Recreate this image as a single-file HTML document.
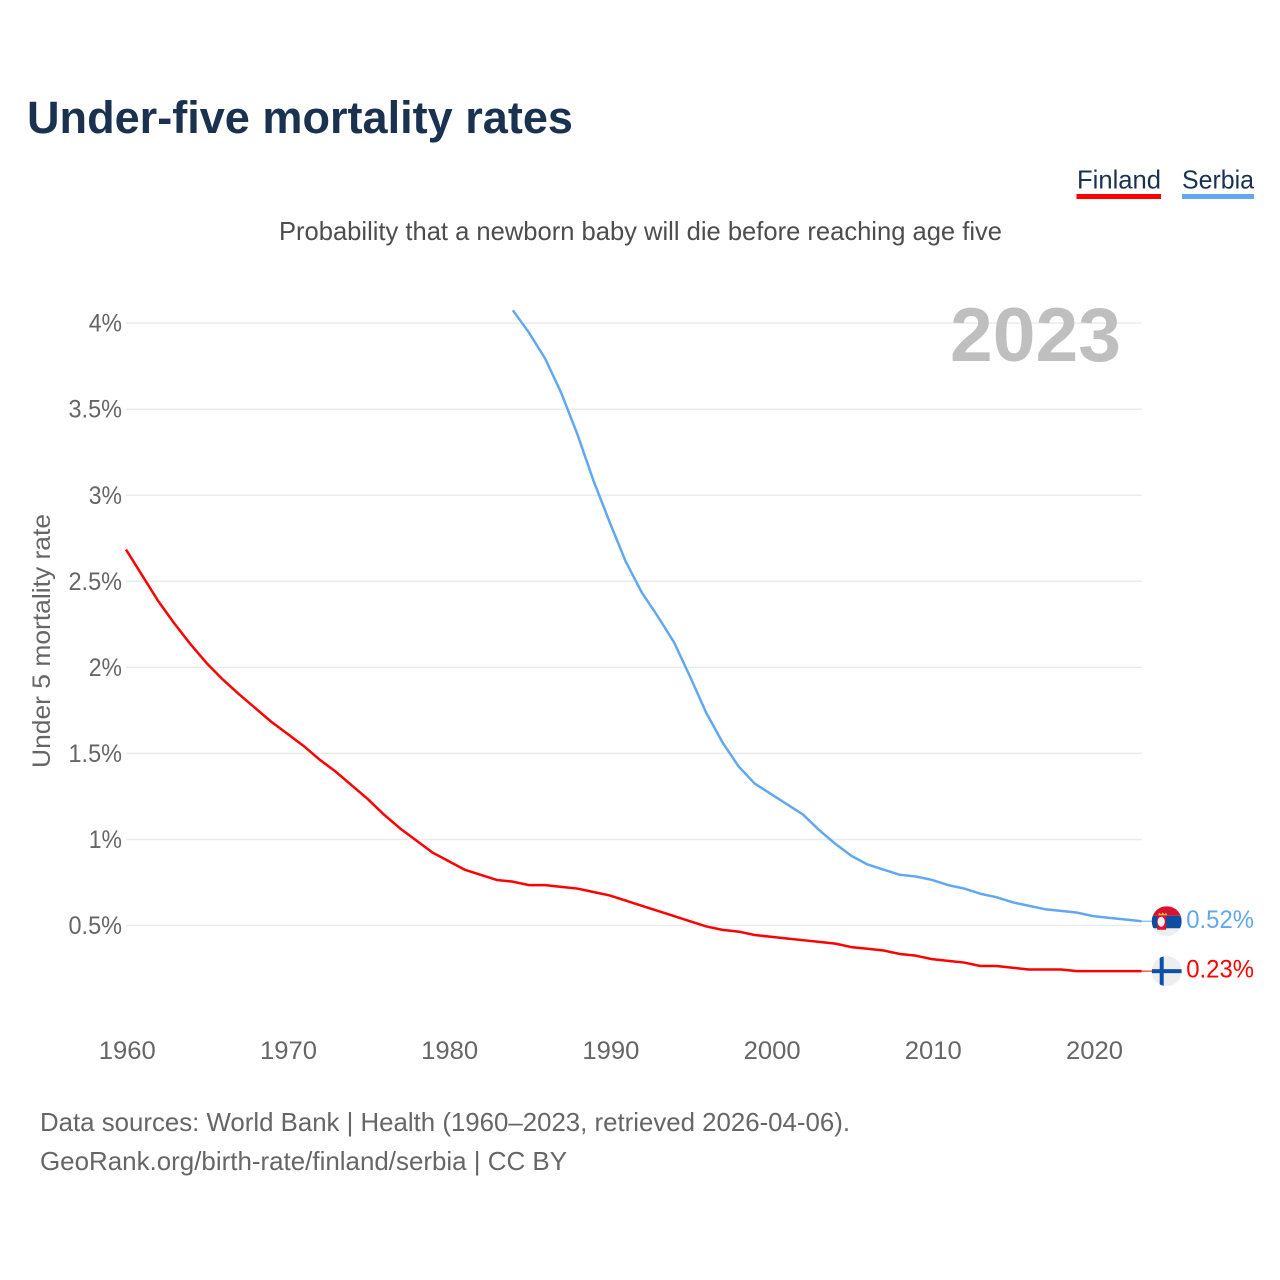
<!DOCTYPE html>
<html lang="en">
<head>
<meta charset="utf-8">
<title>Under-five mortality rates</title>
<style>
html,body{margin:0;padding:0;background:#fff;}
svg{display:block;}
text{font-family:"Liberation Sans",sans-serif;}
</style>
</head>
<body>
<svg id="chart" xmlns="http://www.w3.org/2000/svg" width="1280" height="1280" viewBox="0 0 1280 1280">
  <rect x="0" y="0" width="1280" height="1280" fill="#fff"/>
  <text x="27" y="133" font-size="45" font-weight="700" fill="#1a3150" textLength="546" lengthAdjust="spacingAndGlyphs">Under-five mortality rates</text>
  <g>
    <g>
      <text x="1077" y="188.5" font-size="26" fill="#1a3150" textLength="84" lengthAdjust="spacingAndGlyphs">Finland</text>
      <rect x="1076.5" y="194" width="84.5" height="5" fill="#ff0000"/>
    </g>
    <g>
      <text x="1182" y="188.5" font-size="26" fill="#1a3150" textLength="72" lengthAdjust="spacingAndGlyphs">Serbia</text>
      <rect x="1182" y="194" width="72" height="5" fill="#62a8ef"/>
    </g>
  </g>
  <text x="279" y="240" font-size="26" fill="#4d4d4d" textLength="723" lengthAdjust="spacingAndGlyphs">Probability that a newborn baby will die before reaching age five</text>
  <g id="grid"></g>
  <text x="950" y="361" font-size="76" font-weight="700" fill="#bfbfbf" textLength="171" lengthAdjust="spacingAndGlyphs">2023</text>
  <g id="yticks"></g>
  <g id="xticks"></g>
  <text transform="translate(50 641) rotate(-90)" text-anchor="middle" font-size="25" fill="#666666" textLength="254" lengthAdjust="spacingAndGlyphs">Under 5 mortality rate</text>
  <g id="series"></g>
  <g id="ends"></g>
  <text x="40" y="1131" font-size="26" fill="#666666" textLength="810" lengthAdjust="spacingAndGlyphs">Data sources: World Bank | Health (1960–2023, retrieved 2026-04-06).</text>
  <text x="40" y="1170" font-size="26" fill="#666666" textLength="527" lengthAdjust="spacingAndGlyphs">GeoRank.org/birth-rate/finland/serbia | CC BY</text>
</svg>
<script>
var xTickYears = [1960, 1970, 1980, 1990, 2000, 2010, 2020];
var yTickValues = [0.5, 1, 1.5, 2, 2.5, 3, 3.5, 4];
var finlandStartYear = 1960;
var finlandValues = [2.68,2.53,2.38,2.25,2.13,2.02,1.925,1.84,1.76,1.68,1.61,1.54,1.46,1.39,1.31,1.23,1.14,1.06,0.99,0.92,0.87,0.82,0.79,0.76,0.75,0.73,0.73,0.72,0.71,0.69,0.67,0.64,0.61,0.58,0.55,0.52,0.49,0.47,0.46,0.44,0.43,0.42,0.41,0.40,0.39,0.37,0.36,0.35,0.33,0.32,0.30,0.29,0.28,0.26,0.26,0.25,0.24,0.24,0.24,0.23,0.23,0.23,0.23,0.23];
var serbiaStartYear = 1984;
var serbiaValues = [4.07,3.94,3.79,3.59,3.35,3.08,2.84,2.61,2.43,2.29,2.14,1.94,1.73,1.56,1.42,1.32,1.26,1.20,1.14,1.05,0.97,0.90,0.85,0.82,0.79,0.78,0.76,0.73,0.71,0.68,0.66,0.63,0.61,0.59,0.58,0.57,0.55,0.54,0.53,0.52];

var NS = 'http://www.w3.org/2000/svg';
function xScale(year) { return 126 + (year - 1960) * 16.12; }
function yScale(value) { return 924.7 - (value - 0.5) * 172.1; }
function make(tag, parent, attrs) {
  var el = document.createElementNS(NS, tag);
  for (var k in attrs) el.setAttribute(k, attrs[k]);
  parent.appendChild(el);
  return el;
}
function labelWidth(str) {
  var w = 0;
  for (var i = 0; i < str.length; i++) {
    var c = str.charAt(i);
    w += c === '%' ? 19 : c === '.' ? 6 : 14.25;
  }
  return w;
}
function yLabel(v) { return v + '%'; }

var gridGroup = document.getElementById('grid');
var yGroup = document.getElementById('yticks');
yTickValues.forEach(function (v) {
  var gy = yScale(v) + 0.8;
  var line = make('line', gridGroup, {x1: 126, x2: 1142, y1: gy, y2: gy, stroke: '#ebebeb', 'stroke-width': 1.5});
  
  
  var s = yLabel(v);
  var t = make('text', yGroup, {x: 122, y: gy + 8.5, 'text-anchor': 'end', 'font-size': 25, fill: '#666666', textLength: labelWidth(s), lengthAdjust: 'spacingAndGlyphs'});
  t.textContent = s;
  
  
});

var xGroup = document.getElementById('xticks');
xTickYears.forEach(function (yr) {
  var s = String(yr);
  var t = make('text', xGroup, {x: xScale(yr) + 1.3, y: 1059, 'text-anchor': 'middle', 'font-size': 25, fill: '#666666', textLength: labelWidth(s), lengthAdjust: 'spacingAndGlyphs'});
  t.textContent = s;
  
  
});

function pointsFor(startYear, values) {
  return values.map(function (v, i) {
    return xScale(startYear + i).toFixed(2) + ',' + yScale(v).toFixed(2);
  }).join(' ');
}
var seriesGroup = document.getElementById('series');
var serbiaLine = make('polyline', seriesGroup, {points: pointsFor(serbiaStartYear, serbiaValues), fill: 'none', stroke: '#62a8ef', 'stroke-width': 2.5, 'stroke-linejoin': 'round'});


var finlandLine = make('polyline', seriesGroup, {points: pointsFor(finlandStartYear, finlandValues), fill: 'none', stroke: '#ff0000', 'stroke-width': 2.5, 'stroke-linejoin': 'round'});



var endsGroup = document.getElementById('ends');
var endX = xScale(2023);
var flagX = 1166.7;
var serbiaLast = serbiaValues[serbiaValues.length - 1];
var finlandLast = finlandValues[finlandValues.length - 1];
var serbiaY = yScale(serbiaLast);
var finlandY = yScale(finlandLast);

var serbiaConn = make('line', endsGroup, {x1: endX, x2: flagX, y1: serbiaY, y2: serbiaY, stroke: '#62a8ef', 'stroke-width': 1});


var finlandConn = make('line', endsGroup, {x1: endX, x2: flagX, y1: finlandY, y2: finlandY, stroke: '#ff0000', 'stroke-width': 1});



var defs = make('defs', endsGroup, {});
var clipS = make('clipPath', defs, {id: 'clip-serbia'});
make('circle', clipS, {cx: flagX, cy: serbiaY, r: 15});
var clipF = make('clipPath', defs, {id: 'clip-finland'});
make('circle', clipF, {cx: flagX, cy: finlandY, r: 15});

var flagS = make('g', endsGroup, {'clip-path': 'url(#clip-serbia)'});


make('rect', flagS, {x: flagX - 15, y: serbiaY - 15, width: 30, height: 30, fill: '#eeeeee'});
make('rect', flagS, {x: flagX - 15, y: serbiaY - 15, width: 30, height: 9.5, fill: '#d8122f'});
make('rect', flagS, {x: flagX - 15, y: serbiaY - 5.5, width: 30, height: 12.5, fill: '#0c4da2'});
make('path', flagS, {d: 'M' + (flagX - 9.5) + ' ' + (serbiaY - 5.5) + 'h9v14h-9z', fill: '#d8122f'});
make('path', flagS, {d: 'M' + (flagX - 8.5) + ' ' + (serbiaY - 6) + 'l1 -2.5 2 1.5 1.5 -2 1.5 2 2 -1.5 1 2.5z', fill: '#e8b93a'});
make('ellipse', flagS, {cx: flagX - 5.5, cy: serbiaY + 0.5, rx: 3.6, ry: 5, fill: '#f2f2f2'});

var flagF = make('g', endsGroup, {'clip-path': 'url(#clip-finland)'});


make('rect', flagF, {x: flagX - 15, y: finlandY - 15, width: 30, height: 30, fill: '#eeeeee'});
make('rect', flagF, {x: flagX - 15, y: finlandY - 2, width: 30, height: 4, fill: '#0b50a8'});
make('rect', flagF, {x: flagX - 7, y: finlandY - 15, width: 4, height: 30, fill: '#0b50a8'});

function pctLabel(v) { return v.toFixed(2) + '%'; }
var sLabelText = pctLabel(serbiaLast);
var sLabel = make('text', endsGroup, {x: 1254, y: serbiaY + 6.5, 'text-anchor': 'end', 'font-size': 25, fill: '#62a8ef', textLength: labelWidth(sLabelText), lengthAdjust: 'spacingAndGlyphs'});
sLabel.textContent = sLabelText;


var fLabelText = pctLabel(finlandLast);
var fLabel = make('text', endsGroup, {x: 1254, y: finlandY + 6.5, 'text-anchor': 'end', 'font-size': 25, fill: '#ff0000', textLength: labelWidth(fLabelText), lengthAdjust: 'spacingAndGlyphs'});
fLabel.textContent = fLabelText;


</script>
</body>
</html>
